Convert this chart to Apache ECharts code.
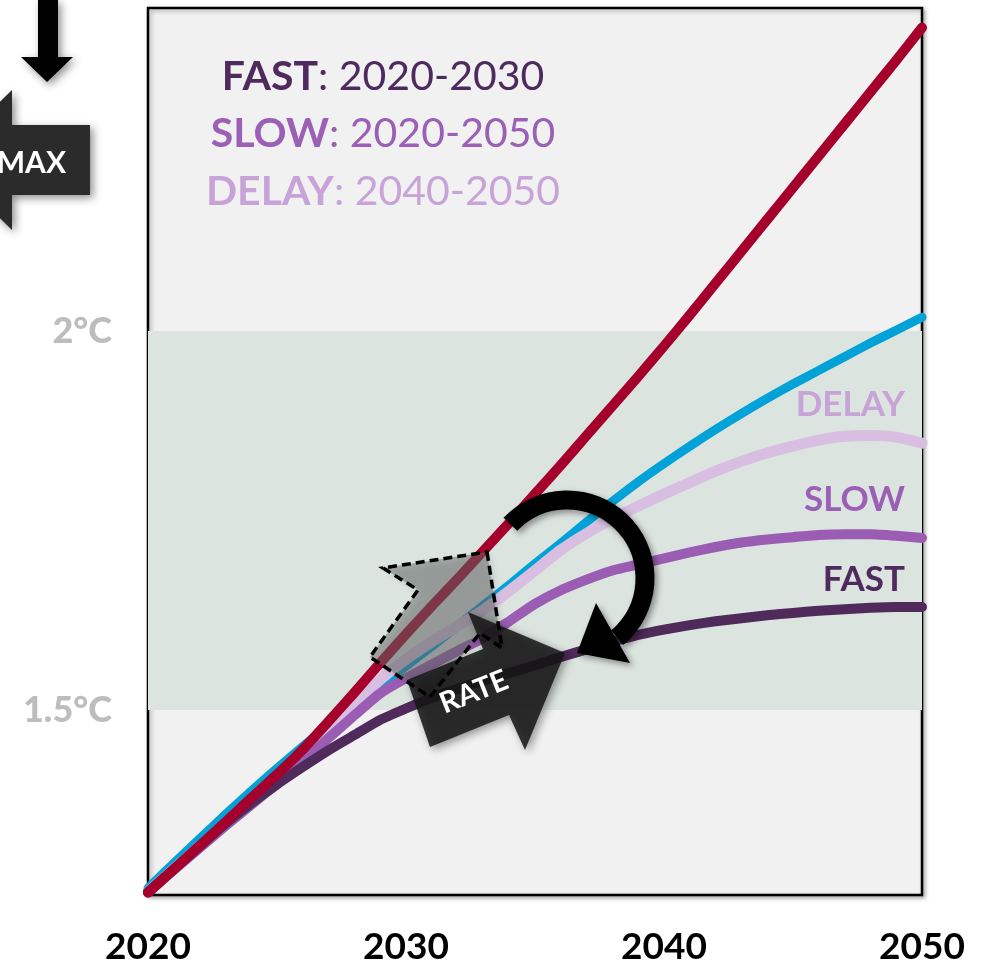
<!DOCTYPE html>
<html><head><meta charset="utf-8">
<script src="https://cdn.jsdelivr.net/npm/echarts@6/dist/echarts.min.js"></script>
<style>html,body{margin:0;padding:0;background:#fff}#c{width:986px;height:966px}</style>
</head><body><div id="c"></div>
<script>
const years = [2020,2021,2022,2023,2024,2025,2026,2027,2028,2029,2030,2031,2032,2033,2034,2035,2036,2037,2038,2039,2040,2041,2042,2043,2044,2045,2046,2047,2048,2049,2050];
const noAction = [1.259,1.290,1.321,1.352,1.384,1.415,1.448,1.485,1.523,1.562,1.600,1.637,1.673,1.710,1.747,1.785,1.823,1.862,1.901,1.940,1.980,2.021,2.063,2.105,2.147,2.189,2.231,2.273,2.315,2.357,2.400];
const current = [1.265,1.298,1.330,1.362,1.393,1.423,1.452,1.480,1.507,1.533,1.558,1.584,1.611,1.638,1.665,1.693,1.720,1.748,1.775,1.801,1.825,1.848,1.870,1.891,1.911,1.930,1.948,1.966,1.984,2.001,2.018];
const delay = [1.260,1.290,1.320,1.350,1.380,1.409,1.440,1.474,1.507,1.540,1.567,1.590,1.611,1.632,1.657,1.684,1.711,1.733,1.752,1.769,1.785,1.800,1.815,1.828,1.839,1.848,1.856,1.861,1.862,1.860,1.852];
const slow = [1.260,1.289,1.318,1.347,1.375,1.403,1.432,1.463,1.493,1.522,1.542,1.560,1.578,1.595,1.617,1.640,1.658,1.672,1.684,1.692,1.700,1.708,1.715,1.721,1.725,1.728,1.731,1.732,1.732,1.730,1.727];
const fast = [1.260,1.290,1.320,1.350,1.377,1.402,1.425,1.447,1.467,1.487,1.502,1.516,1.528,1.539,1.549,1.559,1.570,1.580,1.590,1.599,1.606,1.612,1.617,1.621,1.625,1.628,1.631,1.633,1.635,1.636,1.636];
const xTicks = [2020, 2030, 2040, 2050];
const yTicks = [1.5, 2];
const yTickLabels = ['1.5°C', '2°C'];
const bandRange = [1.5, 2];
const scenarioNames = ['FAST', 'SLOW', 'DELAY'];
const scenarioPeriods = ['2020-2030', '2020-2050', '2040-2050'];

const FONT = 'Lato, "Open Sans", sans-serif';
const C = { red:'#a5002b', blue:'#00a2d8', delay:'#d8bfe2', slow:'#9b5db4', fast:'#4f2a5b',
            tDelay:'#c8a3d8', tSlow:'#9b5fb5', tFast:'#4e2a5e' };
const pairs = arr => years.map((y, i) => [y, arr[i]]);
const shadow = { shadowBlur: 8, shadowColor: 'rgba(0,0,0,0.45)', shadowOffsetX: 3, shadowOffsetY: 3 };

function line(name, arr, color, width, z) {
  return { name, type:'line', data: pairs(arr), showSymbol:false, symbol:'none', smooth:0.2, z,
    lineStyle:{ color, width, cap:'round', join:'round' }, silent:true };
}

const chart = echarts.init(document.getElementById('c'), null, { renderer:'canvas' });
const series = [
  line('current', current, C.blue, 9, 3),
  line('DELAY', delay, C.delay, 11, 4),
  line('SLOW', slow, C.slow, 10, 5),
  line('FAST', fast, C.fast, 10, 6),
  line('noAction', noAction, C.red, 10, 7)
];
series[0].markArea = { silent:true, itemStyle:{ color:'#dce4e0' },
  data: [[{ yAxis: bandRange[0] }, { yAxis: bandRange[1] }]] };

const legendColors = [C.tFast, C.tSlow, C.tDelay];
const legendY = [77, 134, 192];
const legendTexts = scenarioNames.map((n, i) => ({
  type:'text', x:383, y:legendY[i], z:50,
  style:{ text:'{b|' + n + '}{r|: ' + scenarioPeriods[i] + '}', align:'center', verticalAlign:'middle',
    rich:{ b:{ fontFamily:FONT, fontWeight:'bold', fontSize:41, fill:legendColors[i], textFill:legendColors[i], color:legendColors[i] },
           r:{ fontFamily:FONT, fontWeight:'normal', fontSize:41, fill:legendColors[i], textFill:legendColors[i], color:legendColors[i] } } }
}));
const endY = { DELAY:405, SLOW:500, FAST:580 };
const endColors = { DELAY:C.tDelay, SLOW:C.tSlow, FAST:C.tFast };
const endTexts = ['DELAY','SLOW','FAST'].map(n => ({
  type:'text', x:905, y:endY[n], z:50,
  style:{ text:n, fill:endColors[n], font:'bold 35px ' + FONT, align:'right', verticalAlign:'middle' }
}));

const graphics = [].concat(legendTexts, endTexts, [
  // down arrow (top-left)
  { type:'polygon', z:60, shape:{ points:[[38,0],[58,0],[58,57],[73,57],[47,82],[21,57],[38,57]] },
    style:Object.assign({ fill:'#000' }, shadow) },
  // MAX arrow (pointing left)
  { type:'polygon', z:60, shape:{ points:[[90,125],[90,195],[12,195],[12,230],[-60,160],[12,90],[12,125]] },
    style:Object.assign({ fill:'#2b2b2b' }, shadow) },
  { type:'text', z:61, x:66, y:163, style:{ text:'MAX', fill:'#fff', font:'bold 30px ' + FONT, align:'right', verticalAlign:'middle' } },
  // dashed arrow fill
  { type:'polygon', z:60, shape:{ points:[[487,552],[502,648],[480,633],[430,697],[370,657],[418,590],[383,568]] },
    style:Object.assign({ fill:'rgba(105,110,108,0.5)', stroke:null }, { shadowBlur:6, shadowColor:'rgba(0,0,0,0.25)', shadowOffsetX:3, shadowOffsetY:3 }) },
  // RATE arrow
  { type:'polygon', z:61, shape:{ points:[[407,680],[483,649],[468,612],[565,653],[525,750],[509,715],[430,747]] },
    style:Object.assign({ fill:'rgba(22,22,22,0.86)' }, shadow) },
  // dashed outline
  { type:'polygon', z:62, shape:{ points:[[487,552],[502,648],[480,633],[430,697],[370,657],[418,590],[383,568]] },
    style:{ fill:null, stroke:'#000', lineWidth:3.5, lineDash:[9,5] } },
  { type:'text', z:63, x:474, y:692, rotation:0.38,
    style:{ text:'RATE', fill:'#fff', font:'bold 29px ' + FONT, align:'center', verticalAlign:'middle' } },
  // curved arrow
  { type:'arc', z:64, shape:{ cx:567, cy:578, r:78, startAngle:223.5*Math.PI/180, endAngle:50*Math.PI/180, clockwise:true },
    style:Object.assign({ fill:null, stroke:'#000', lineWidth:19, lineCap:'butt' }, { shadowBlur:6, shadowColor:'rgba(0,0,0,0.4)', shadowOffsetX:3, shadowOffsetY:3 }) },
  { type:'polygon', z:64, shape:{ points:[[596,603],[630,663],[577,653]] },
    style:Object.assign({ fill:'#000' }, { shadowBlur:6, shadowColor:'rgba(0,0,0,0.4)', shadowOffsetX:3, shadowOffsetY:3 }) }
]);

chart.setOption({
  animation:false,
  backgroundColor:'#ffffff',
  grid:{ left:148, right:64, top:8, bottom:71, show:true, backgroundColor:'#f1f1f1', borderColor:'#000', borderWidth:2.5,
         shadowColor:'rgba(0,0,0,0.3)', shadowBlur:4, shadowOffsetX:2, shadowOffsetY:2 },
  xAxis:{ type:'value', min:2020, max:2050, interval:10,
    axisLine:{ show:false }, axisTick:{ show:false }, splitLine:{ show:false },
    axisLabel:{ customValues:xTicks, formatter:v => String(v), margin:52, verticalAlign:'middle',
      color:'#000', fontFamily:FONT, fontWeight:'bold', fontSize:37 } },
  yAxis:{ type:'value', min:1.256, max:2.426,
    axisLine:{ show:false }, axisTick:{ show:false }, splitLine:{ show:false },
    axisLabel:{ customValues:yTicks, formatter:v => yTickLabels[yTicks.indexOf(+(+v).toFixed(2))] || '', margin:36,
      color:'#bdbdbd', fontFamily:FONT, fontWeight:'900', fontSize:36 } },
  series,
  graphic: graphics
});
</script></body></html>
